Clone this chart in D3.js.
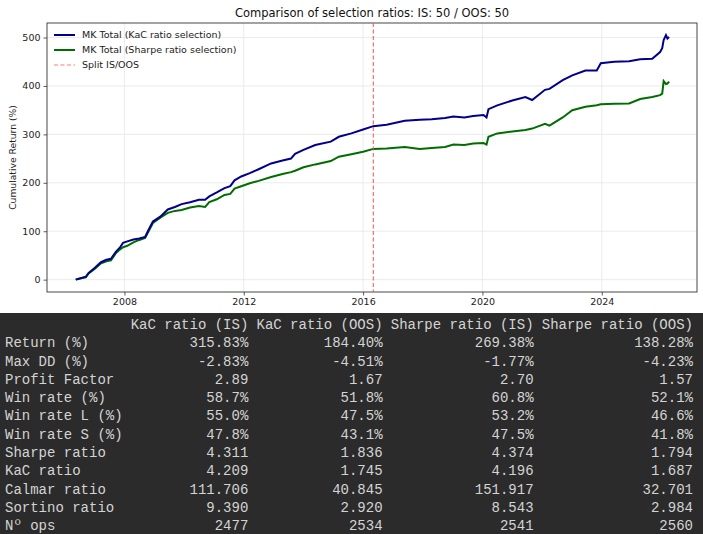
<!DOCTYPE html>
<html>
<head>
<meta charset="utf-8">
<script src="https://cdn.jsdelivr.net/npm/d3@7"></script>
<style>
  body { margin: 0; background: #fff; }
  svg { display: block; font-family: "DejaVu Sans", sans-serif; }
</style>
</head>
<body>
<div id="chart"></div>
<script>
// fechas y retornos acumulados (%)
const dates = [
  "2006-05-15", "2006-07-15", "2006-09-15", "2006-10-20", "2007-01-01", "2007-03-20",
  "2007-05-25", "2007-07-20", "2007-09-20", "2007-11-05", "2007-12-15", "2008-02-05",
  "2008-04-20", "2008-07-01", "2008-09-10", "2008-10-20", "2008-12-15", "2009-03-15",
  "2009-06-15", "2009-09-10", "2009-12-01", "2010-03-15", "2010-07-01", "2010-09-15",
  "2010-11-05", "2011-02-05", "2011-05-10", "2011-07-20", "2011-09-10", "2011-12-01",
  "2012-03-15", "2012-07-01", "2012-12-01", "2013-04-20", "2013-08-01", "2013-09-20",
  "2014-01-01", "2014-05-25", "2014-12-01", "2015-03-10", "2015-08-10", "2016-01-01",
  "2016-05-05", "2016-10-15", "2017-05-25", "2017-11-25", "2018-04-20", "2018-10-01",
  "2019-01-10", "2019-05-25", "2019-09-10", "2020-01-15", "2020-02-20", "2020-03-15",
  "2020-07-01", "2021-01-01", "2021-06-10", "2021-09-01", "2022-02-05", "2022-04-01",
  "2022-09-10", "2023-01-05", "2023-06-15", "2023-11-01", "2023-12-20", "2024-06-01",
  "2024-12-01", "2025-04-15", "2025-09-10", "2025-12-15", "2026-01-10", "2026-01-28",
  "2026-02-25", "2026-03-15", "2026-04-05"
];
const kacReturn = [
  0, 3, 6, 14, 24, 36, 41, 43, 58, 66, 76, 79,
  83, 85, 88, 102, 120, 130, 145, 150, 156, 160, 165, 165,
  172, 180, 189, 193, 205, 213, 220, 228, 240, 246, 250, 260,
  268, 278, 285, 295, 302, 310, 317, 320, 328, 330, 331, 334,
  337, 335, 338, 340, 335, 352, 360, 370, 377, 371, 392, 394,
  412, 422, 432, 432, 447, 450, 451, 455, 456, 470, 478, 495,
  505, 498, 501
];
const sharpeReturn = [
  0, 3, 5, 13, 22, 34, 38, 40, 55, 62, 67, 70,
  77, 82, 86, 99, 117, 128, 138, 142, 144, 149, 152, 150,
  160, 166, 175, 177, 188, 193, 199, 204, 212, 218, 222, 225,
  232, 238, 245, 254, 259, 264, 270, 271, 274, 270, 272, 274,
  279, 278, 281, 282, 279, 295, 302, 306, 309, 312, 322, 318,
  335, 350, 357, 360, 362, 363, 364, 373, 377, 381, 384, 410,
  404, 405, 409
];
const splitDate = "2016-05-05";
const yTicks = [0, 100, 200, 300, 400, 500];
const xTickYears = [2008, 2012, 2016, 2020, 2024];

// tabla de métricas
const metricNames = ["Return (%)", "Max DD (%)", "Profit Factor", "Win rate (%)", "Win rate L (%)",
  "Win rate S (%)", "Sharpe ratio", "KaC ratio", "Calmar ratio", "Sortino ratio", "N\u00ba ops"];
const tableHeaders = ["KaC ratio (IS)", "KaC ratio (OOS)", "Sharpe ratio (IS)", "Sharpe ratio (OOS)"];
const kacIS = ["315.83%", "-2.83%", "2.89", "58.7%", "55.0%", "47.8%", "4.311", "4.209", "111.706", "9.390", "2477"];
const kacOOS = ["184.40%", "-4.51%", "1.67", "51.8%", "47.5%", "43.1%", "1.836", "1.745", "40.845", "2.920", "2534"];
const sharpeIS = ["269.38%", "-1.77%", "2.70", "60.8%", "53.2%", "47.5%", "4.374", "4.196", "151.917", "8.543", "2541"];
const sharpeOOS = ["138.28%", "-4.23%", "1.57", "52.1%", "46.6%", "41.8%", "1.794", "1.687", "32.701", "2.984", "2560"];

const W = 703, H = 534;
const plot = { left: 47, right: 697, top: 23, bottom: 292 };
const parse = d3.timeParse("%Y-%m-%d");

const svg = d3.select("#chart").append("svg")
  .attr("width", W)
  .attr("height", H);

const parsedDates = dates.map(parse);
const x = d3.scaleTime()
  .domain([new Date(2005, 4, 28), new Date(2027, 2, 12)])
  .range([plot.left, plot.right]);
const y = d3.scaleLinear()
  .domain([-25.5, 530])
  .range([plot.bottom, plot.top]);

// rejilla
svg.append("g")
  .selectAll("line.gx")
  .data(xTickYears)
  .enter()
  .append("line")
  .attr("x1", (d) => x(new Date(d, 0, 1)))
  .attr("x2", (d) => x(new Date(d, 0, 1)))
  .attr("y1", plot.top)
  .attr("y2", plot.bottom)
  .attr("stroke", "#e6e6e6")
  .attr("stroke-width", 0.8);
svg.append("g")
  .selectAll("line.gy")
  .data(yTicks)
  .enter()
  .append("line")
  .attr("x1", plot.left)
  .attr("x2", plot.right)
  .attr("y1", (d) => y(d))
  .attr("y2", (d) => y(d))
  .attr("stroke", "#e6e6e6")
  .attr("stroke-width", 0.8);

// ejes
const xAxis = d3.axisBottom(x)
  .tickValues(xTickYears.map((d) => new Date(d, 0, 1)))
  .tickFormat(d3.timeFormat("%Y"))
  .tickSize(3.5)
  .tickPadding(3);
const yAxis = d3.axisLeft(y)
  .tickValues(yTicks)
  .tickSize(3.5)
  .tickPadding(3);

const gx = svg.append("g")
  .attr("transform", `translate(0,${plot.bottom})`)
  .call(xAxis);
const gy = svg.append("g")
  .attr("transform", `translate(${plot.left},0)`)
  .call(yAxis);
[gx, gy].forEach((g) => {
  g.select(".domain").remove();
  g.selectAll("text")
    .attr("font-family", "DejaVu Sans")
    .attr("font-size", 9.5)
    .attr("fill", "#222");
  g.selectAll("line").attr("stroke", "#333").attr("stroke-width", 0.8);
});

// marco
svg.append("rect")
  .attr("x", plot.left)
  .attr("y", plot.top)
  .attr("width", plot.right - plot.left)
  .attr("height", plot.bottom - plot.top)
  .attr("fill", "none")
  .attr("stroke", "#333")
  .attr("stroke-width", 0.9);

// líneas de retorno
const line = d3.line()
  .x((d) => x(d[0]))
  .y((d) => y(d[1]));

svg.append("path")
  .datum(parsedDates.map((d, i) => [d, sharpeReturn[i]]))
  .attr("d", line)
  .attr("fill", "none")
  .attr("stroke", "#006d00")
  .attr("stroke-width", 2);

svg.append("path")
  .datum(parsedDates.map((d, i) => [d, kacReturn[i]]))
  .attr("d", line)
  .attr("fill", "none")
  .attr("stroke", "#00008b")
  .attr("stroke-width", 2);

// separación IS/OOS
svg.append("line")
  .attr("x1", x(parse(splitDate)))
  .attr("x2", x(parse(splitDate)))
  .attr("y1", plot.top)
  .attr("y2", plot.bottom)
  .attr("stroke", "#ff4d4d")
  .attr("stroke-width", 1)
  .attr("stroke-dasharray", "4,2.5");

// leyenda
const legendItems = [
  { label: "MK Total (KaC ratio selection)", color: "#00008b", dash: null, w: 2 },
  { label: "MK Total (Sharpe ratio selection)", color: "#006d00", dash: null, w: 2 },
  { label: "Split IS/OOS", color: "#ff7a7a", dash: "4,2.5", w: 1.2 },
];
const legend = svg.append("g").attr("transform", "translate(54,35)");
legendItems.forEach((d, i) => {
  const row = legend.append("g").attr("transform", `translate(0,${i * 15})`);
  row.append("line")
    .attr("x1", 0)
    .attr("x2", 21)
    .attr("stroke", d.color)
    .attr("stroke-width", d.w)
    .attr("stroke-dasharray", d.dash);
  row.append("text")
    .attr("x", 28)
    .attr("dy", "0.35em")
    .attr("font-size", 9.5)
    .attr("fill", "#222")
    .text(d.label);
});

// título y etiqueta Y
svg.append("text")
  .attr("x", (plot.left + plot.right) / 2)
  .attr("y", 17)
  .attr("text-anchor", "middle")
  .attr("font-size", 11.5)
  .attr("fill", "#111")
  .text("Comparison of selection ratios: IS: 50 / OOS: 50");

svg.append("text")
  .attr("transform", `translate(13,${(plot.top + plot.bottom) / 2}) rotate(-90)`)
  .attr("text-anchor", "middle")
  .attr("dy", "0.35em")
  .attr("font-size", 9.2)
  .attr("fill", "#222")
  .text("Cumulative Return (%)");

// tabla de resultados (ancho fijo, como el texto de pandas)
const tableTop = 313;
svg.append("rect")
  .attr("x", 0)
  .attr("y", tableTop)
  .attr("width", W)
  .attr("height", H - tableTop)
  .attr("fill", "#2b2b2b");

const charW = 8.39;
const rowY = (i) => 324 + i * 18.3; // i = 0 es la cabecera
// fin de cada columna en caracteres: índice de 14 + espacio + ancho de la cabecera
let endChar = 14;
const colRight = tableHeaders.map((h) => {
  endChar += 1 + h.length;
  return 5 + endChar * charW;
});
const columns = [kacIS, kacOOS, sharpeIS, sharpeOOS];
const tableText = svg.append("g")
  .attr("font-family", "Liberation Mono, DejaVu Sans Mono, monospace")
  .attr("font-size", 14)
  .attr("fill", "#d4d4d4");

tableText.selectAll("text.head")
  .data(tableHeaders)
  .enter()
  .append("text")
  .attr("x", (d, i) => colRight[i])
  .attr("y", rowY(0))
  .attr("dy", "0.35em")
  .attr("text-anchor", "end")
  .text((d) => d);

tableText.selectAll("text.name")
  .data(metricNames)
  .enter()
  .append("text")
  .attr("x", 5)
  .attr("y", (d, i) => rowY(i + 1))
  .attr("dy", "0.35em")
  .text((d) => d);

columns.forEach((col, c) => {
  tableText.selectAll(`text.c${c}`)
    .data(col)
    .enter()
    .append("text")
    .attr("x", colRight[c])
    .attr("y", (d, i) => rowY(i + 1))
    .attr("dy", "0.35em")
    .attr("text-anchor", "end")
    .text((d) => d);
});
</script>
</body>
</html>
